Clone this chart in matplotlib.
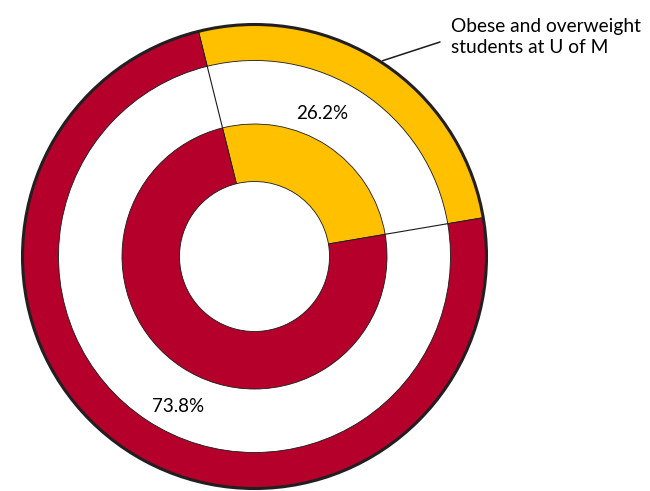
import numpy as np
import matplotlib
matplotlib.use("Agg")
import matplotlib.pyplot as plt
from matplotlib.patches import Circle

# Data
categories = ["Obese and overweight", "Other"]
values = [26.2, 73.8]
labels = ["26.2%", "73.8%"]
colors = ["#FFC000", "#B5002B"]
annotation = "Obese and overweight\nstudents at U of M"

W, H = 650, 491
fig = plt.figure(figsize=(W / 100, H / 100), dpi=100)
ax = fig.add_axes([0, 0, 1, 1])

cx, cy = 254.5, H - 256.5
R_out = 232
w_out = 36
R_in = 132.5
w_in = 57.5

frac = values[0] / sum(values)
mid = 56.8
start = mid - frac * 360 / 2

wp = dict(edgecolor="#1a1a1a", linewidth=0.6)
ax.pie(values, colors=colors, radius=R_out, center=(cx, cy), startangle=start,
       wedgeprops=dict(width=w_out, **wp), frame=True)
ax.pie(values, colors=colors, radius=R_in, center=(cx, cy), startangle=start,
       wedgeprops=dict(width=w_in, **wp), frame=True)

# outer border
ax.add_patch(Circle((cx, cy), R_out, fill=False, edgecolor="#231F20", linewidth=2.2, zorder=5))

# radial connector lines across the white band
for ang in [start, start + frac * 360]:
    a = np.deg2rad(ang)
    r0, r1 = R_in, R_out - w_out
    ax.plot([cx + r0 * np.cos(a), cx + r1 * np.cos(a)],
            [cy + r0 * np.sin(a), cy + r1 * np.sin(a)], color="#1a1a1a", linewidth=0.8)

font = "Lato"
ax.text(322, H - 113, labels[0], ha="center", va="center", fontsize=13.5, family=font)
ax.text(178, H - 407, labels[1], ha="center", va="center", fontsize=13.5, family=font)

am = np.deg2rad(mid)
ax.annotate("", xy=(cx + (R_out + 2) * np.cos(am), cy + (R_out + 2) * np.sin(am)),
            xytext=(440, H - 42),
            arrowprops=dict(arrowstyle="-", color="#1a1a1a", linewidth=1.1,
                            shrinkA=0, shrinkB=0))
ax.text(451, H - 37, annotation, ha="left", va="center", fontsize=13.8, family=font,
        linespacing=1.25)

ax.set_xlim(0, W)
ax.set_ylim(0, H)
ax.set_aspect("equal")
ax.axis("off")

fig.savefig("out.png", dpi=100)
